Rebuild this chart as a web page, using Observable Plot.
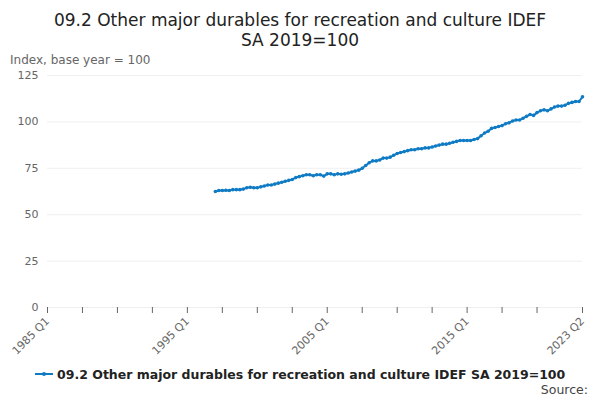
<!DOCTYPE html>
<html><head><meta charset="utf-8">
<script src="https://cdn.jsdelivr.net/npm/d3@7"></script>
<script src="https://cdn.jsdelivr.net/npm/@observablehq/plot@0.6"></script>
<style>
body{margin:0;font-family:"DejaVu Sans",sans-serif;background:#fff}
h1{font-size:17px;font-weight:normal;text-align:center;margin:10px 45px 0;line-height:1.2;color:#222}
#unit{font-size:12px;color:#666;margin:2px 0 0 10px}
#legend{font-size:12.5px;font-weight:bold;color:#222;text-align:center;margin-top:10px}
#src{font-size:12.5px;color:#444;text-align:right;margin-right:12px}
</style></head><body>
<h1>09.2 Other major durables for recreation and culture IDEF SA 2019=100</h1>
<div id="unit">Index, base year = 100</div>
<div id="chart"></div>
<div id="legend"><svg width="18" height="10"><line x1="0" y1="5" x2="18" y2="5" stroke="#0f7bc4" stroke-width="2"/><circle cx="9" cy="5" r="2" fill="#0f7bc4"/></svg> 09.2 Other major durables for recreation and culture IDEF SA 2019=100</div>
<div id="src">Source:</div>
<script>
const startYear = 1997;
const values = [
62.5,63,63,63.2, 63,63.5,63.5,63.5, 63.8,64.5,64.8,64.5, 64.5,65,65.5,66,
66,66.5,67,67.5, 68,68.5,69,70, 70.5,71,71.5,71.5, 71,71.5,71.5,70.8,
72,72,71.5,72, 71.8,72,72.5,73, 73.5,74,75,76.5, 78,79,79,79.5,
80.5,80.5,81,82, 83,83.5,84,84.5, 85,85,85.5,85.5, 86,86,86.5,87,
87.5,88,88,88.5, 89,89.5,90,90, 90,90,90.5,91, 92.5,94,95,96.5,
97,97.5,98,99, 99.5,100.5,101,101, 102,103,104,103.5, 105,106,106.5,106,
107,108,108.5,108.5, 109,110,110.5,111, 111,113.5];
const tickLabels = {0:"1985 Q1",40:"1995 Q1",80:"2005 Q1",120:"2015 Q1",153:"2023 Q2"};
const data = values.map((v,i)=>({q:(startYear-1985)*4+i, v}));
const color = "#0f7bc4";
const chart = Plot.plot({
  width:600, height:290, marginLeft:47, marginRight:18, marginTop:8, marginBottom:50,
  style:{fontFamily:"DejaVu Sans",fontSize:"11px",color:"#666"},
  x:{domain:[0,153], ticks:[0,10,20,30,40,50,60,70,80,90,100,110,120,130,140,153],
     tickFormat:d=>tickLabels[d]??"", tickRotate:-45, label:null},
  y:{domain:[0,125], ticks:[0,25,50,75,100,125], label:null, grid:true},
  marks:[
    Plot.axisY({ticks:[0,25,50,75,100,125], tickSize:0, label:null, fontSize:11}),
    Plot.line(data,{x:"q",y:"v",stroke:color,strokeWidth:2}),
    Plot.dot(data,{x:"q",y:"v",fill:color,r:1.8})
  ]
});
document.getElementById("chart").appendChild(chart);
</script>
</body></html>
